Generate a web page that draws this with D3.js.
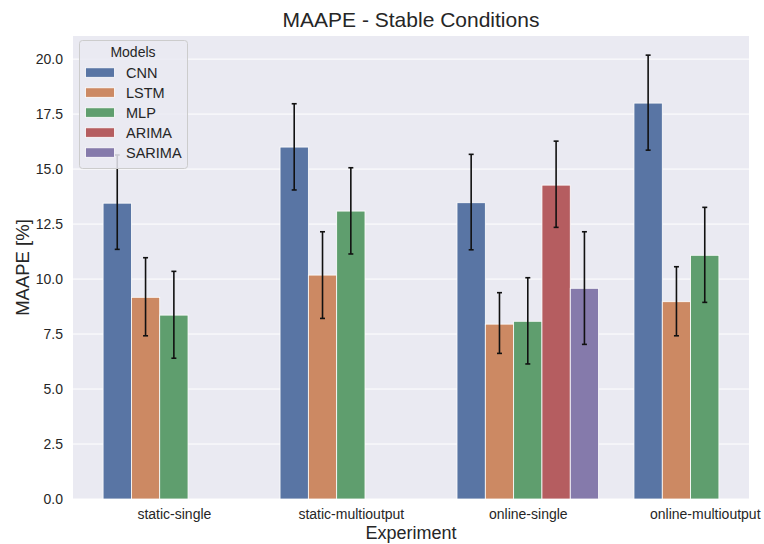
<!DOCTYPE html>
<html>
<head>
<meta charset="utf-8">
<script src="https://cdn.jsdelivr.net/npm/d3@7"></script>
<style>
  body { margin: 0; background: #fff; }
  svg { font-family: "Liberation Sans", Arial, sans-serif; }
</style>
</head>
<body>
<svg width="764" height="544"></svg>
<script>
// categories and hues
const experiments = ["static-single", "static-multioutput", "online-single", "online-multioutput"];
const models = ["CNN", "LSTM", "MLP", "ARIMA", "SARIMA"];
const colors = ["#5975a4", "#cc8963", "#5f9e6e", "#b55d60", "#857aab"];

// mean values per model (null = not run)
const CNN    = [13.45, 16.0, 13.47, 18.0];
const LSTM   = [9.17, 10.18, 7.95, 8.97];
const MLP    = [8.36, 13.09, 8.08, 11.08];
const ARIMA  = [null, null, 14.27, null];
const SARIMA = [null, null, 9.58, null];

// error bar ends
const CNN_lo    = [11.35, 14.05, 11.33, 15.86];
const CNN_hi    = [15.64, 17.97, 15.67, 20.18];
const LSTM_lo   = [7.42, 8.21, 6.62, 7.42];
const LSTM_hi   = [10.97, 12.15, 9.38, 10.56];
const MLP_lo    = [6.4, 11.14, 6.14, 8.94];
const MLP_hi    = [10.35, 15.06, 10.06, 13.26];
const ARIMA_lo  = [null, null, 12.35, null];
const ARIMA_hi  = [null, null, 16.27, null];
const SARIMA_lo = [null, null, 7.03, null];
const SARIMA_hi = [null, null, 12.15, null];

const yTicks = [0, 2.5, 5, 7.5, 10, 12.5, 15, 17.5, 20];

const series = [
  {name: "CNN", vals: CNN, lo: CNN_lo, hi: CNN_hi},
  {name: "LSTM", vals: LSTM, lo: LSTM_lo, hi: LSTM_hi},
  {name: "MLP", vals: MLP, lo: MLP_lo, hi: MLP_hi},
  {name: "ARIMA", vals: ARIMA, lo: ARIMA_lo, hi: ARIMA_hi},
  {name: "SARIMA", vals: SARIMA, lo: SARIMA_lo, hi: SARIMA_hi}
];

const bars = [];
series.forEach((s, j) => {
  s.vals.forEach((v, i) => {
    if (v !== null) bars.push({model: s.name, j: j, i: i, value: v, lo: s.lo[i], hi: s.hi[i]});
  });
});

const L = 73, R = 749, T = 36, B = 499;
const svg = d3.select("svg");

const x = d3.scaleLinear().domain([-0.57, 3.25]).range([L, R]);
const y = d3.scaleLinear().domain([0, 21.05]).range([B, T]);
const hueW = 0.8 / models.length;

svg.append("rect")
  .attr("x", L).attr("y", T)
  .attr("width", R - L).attr("height", B - T)
  .attr("fill", "#eaeaf2");

// grid
svg.append("g")
  .selectAll("line")
  .data(yTicks)
  .enter()
  .append("line")
  .attr("x1", L).attr("x2", R)
  .attr("y1", d => y(d)).attr("y2", d => y(d))
  .attr("stroke", "#fff")
  .attr("stroke-width", 1);

// y axis
const yAxis = svg.append("g")
  .attr("transform", `translate(${L},0)`)
  .call(d3.axisLeft(y).tickValues(yTicks).tickFormat(d3.format(".1f")).tickSize(0).tickPadding(10));
yAxis.select(".domain").remove();
yAxis.selectAll("text")
  .attr("font-size", 14)
  .attr("fill", "#262626")
  .attr("font-family", "Liberation Sans, Arial, sans-serif");

// x axis
const xAxis = svg.append("g")
  .attr("transform", `translate(0,${B})`)
  .call(d3.axisBottom(x).tickValues(d3.range(experiments.length)).tickFormat(i => experiments[i]).tickSize(0).tickPadding(10));
xAxis.select(".domain").remove();
xAxis.selectAll("text")
  .attr("font-size", 14)
  .attr("fill", "#262626")
  .attr("font-family", "Liberation Sans, Arial, sans-serif");

// bars
svg.append("g")
  .selectAll(".bar")
  .data(bars)
  .enter()
  .append("rect")
  .classed("bar", true)
  .attr("x", d => x(d.i + (d.j - 2.5) * hueW))
  .attr("width", d => x(hueW) - x(0))
  .attr("y", d => y(d.value))
  .attr("height", d => y(0) - y(d.value))
  .attr("fill", d => colors[d.j])
  .attr("stroke", "#fff")
  .attr("stroke-width", 0.8);

// error bars
const err = svg.append("g")
  .selectAll("g")
  .data(bars)
  .enter()
  .append("g")
  .attr("stroke", "#111")
  .attr("stroke-width", 1.6);
const cx = d => x(d.i + (d.j - 2) * hueW);
err.append("line")
  .attr("x1", cx).attr("x2", cx)
  .attr("y1", d => y(d.lo)).attr("y2", d => y(d.hi));
err.append("line")
  .attr("x1", d => cx(d) - 2.5).attr("x2", d => cx(d) + 2.5)
  .attr("y1", d => y(d.lo)).attr("y2", d => y(d.lo));
err.append("line")
  .attr("x1", d => cx(d) - 2.5).attr("x2", d => cx(d) + 2.5)
  .attr("y1", d => y(d.hi)).attr("y2", d => y(d.hi));

// titles
svg.append("text")
  .attr("x", (L + R) / 2).attr("y", 27)
  .attr("text-anchor", "middle")
  .attr("font-size", 21)
  .attr("fill", "#262626")
  .text("MAAPE - Stable Conditions");
svg.append("text")
  .attr("x", (L + R) / 2).attr("y", 539)
  .attr("text-anchor", "middle")
  .attr("font-size", 18)
  .attr("fill", "#262626")
  .text("Experiment");
svg.append("text")
  .attr("transform", `translate(29,${(T + B) / 2}) rotate(-90)`)
  .attr("text-anchor", "middle")
  .attr("font-size", 18.5)
  .attr("fill", "#262626")
  .text("MAAPE [%]");

// legend
const lg = svg.append("g");
lg.append("rect")
  .attr("x", 79.5).attr("y", 40.5)
  .attr("width", 108).attr("height", 128)
  .attr("rx", 3)
  .attr("fill", "#eaeaf2").attr("fill-opacity", 0.85)
  .attr("stroke", "#cccccc").attr("stroke-width", 1);
lg.append("text")
  .attr("x", 133).attr("y", 57)
  .attr("text-anchor", "middle")
  .attr("font-size", 14)
  .attr("fill", "#262626")
  .text("Models");
const item = lg.selectAll(".item")
  .data(models)
  .enter()
  .append("g")
  .attr("transform", (d, k) => `translate(0,${72.3 + k * 20})`);
item.append("rect")
  .attr("x", 85.5).attr("y", -4.5)
  .attr("width", 29).attr("height", 9.5)
  .attr("fill", (d, k) => colors[k])
  .attr("stroke", "#fff").attr("stroke-width", 0.8);
item.append("text")
  .attr("x", 126).attr("y", 5.5)
  .attr("font-size", 14.5)
  .attr("fill", "#262626")
  .text(d => d);
</script>
</body>
</html>
